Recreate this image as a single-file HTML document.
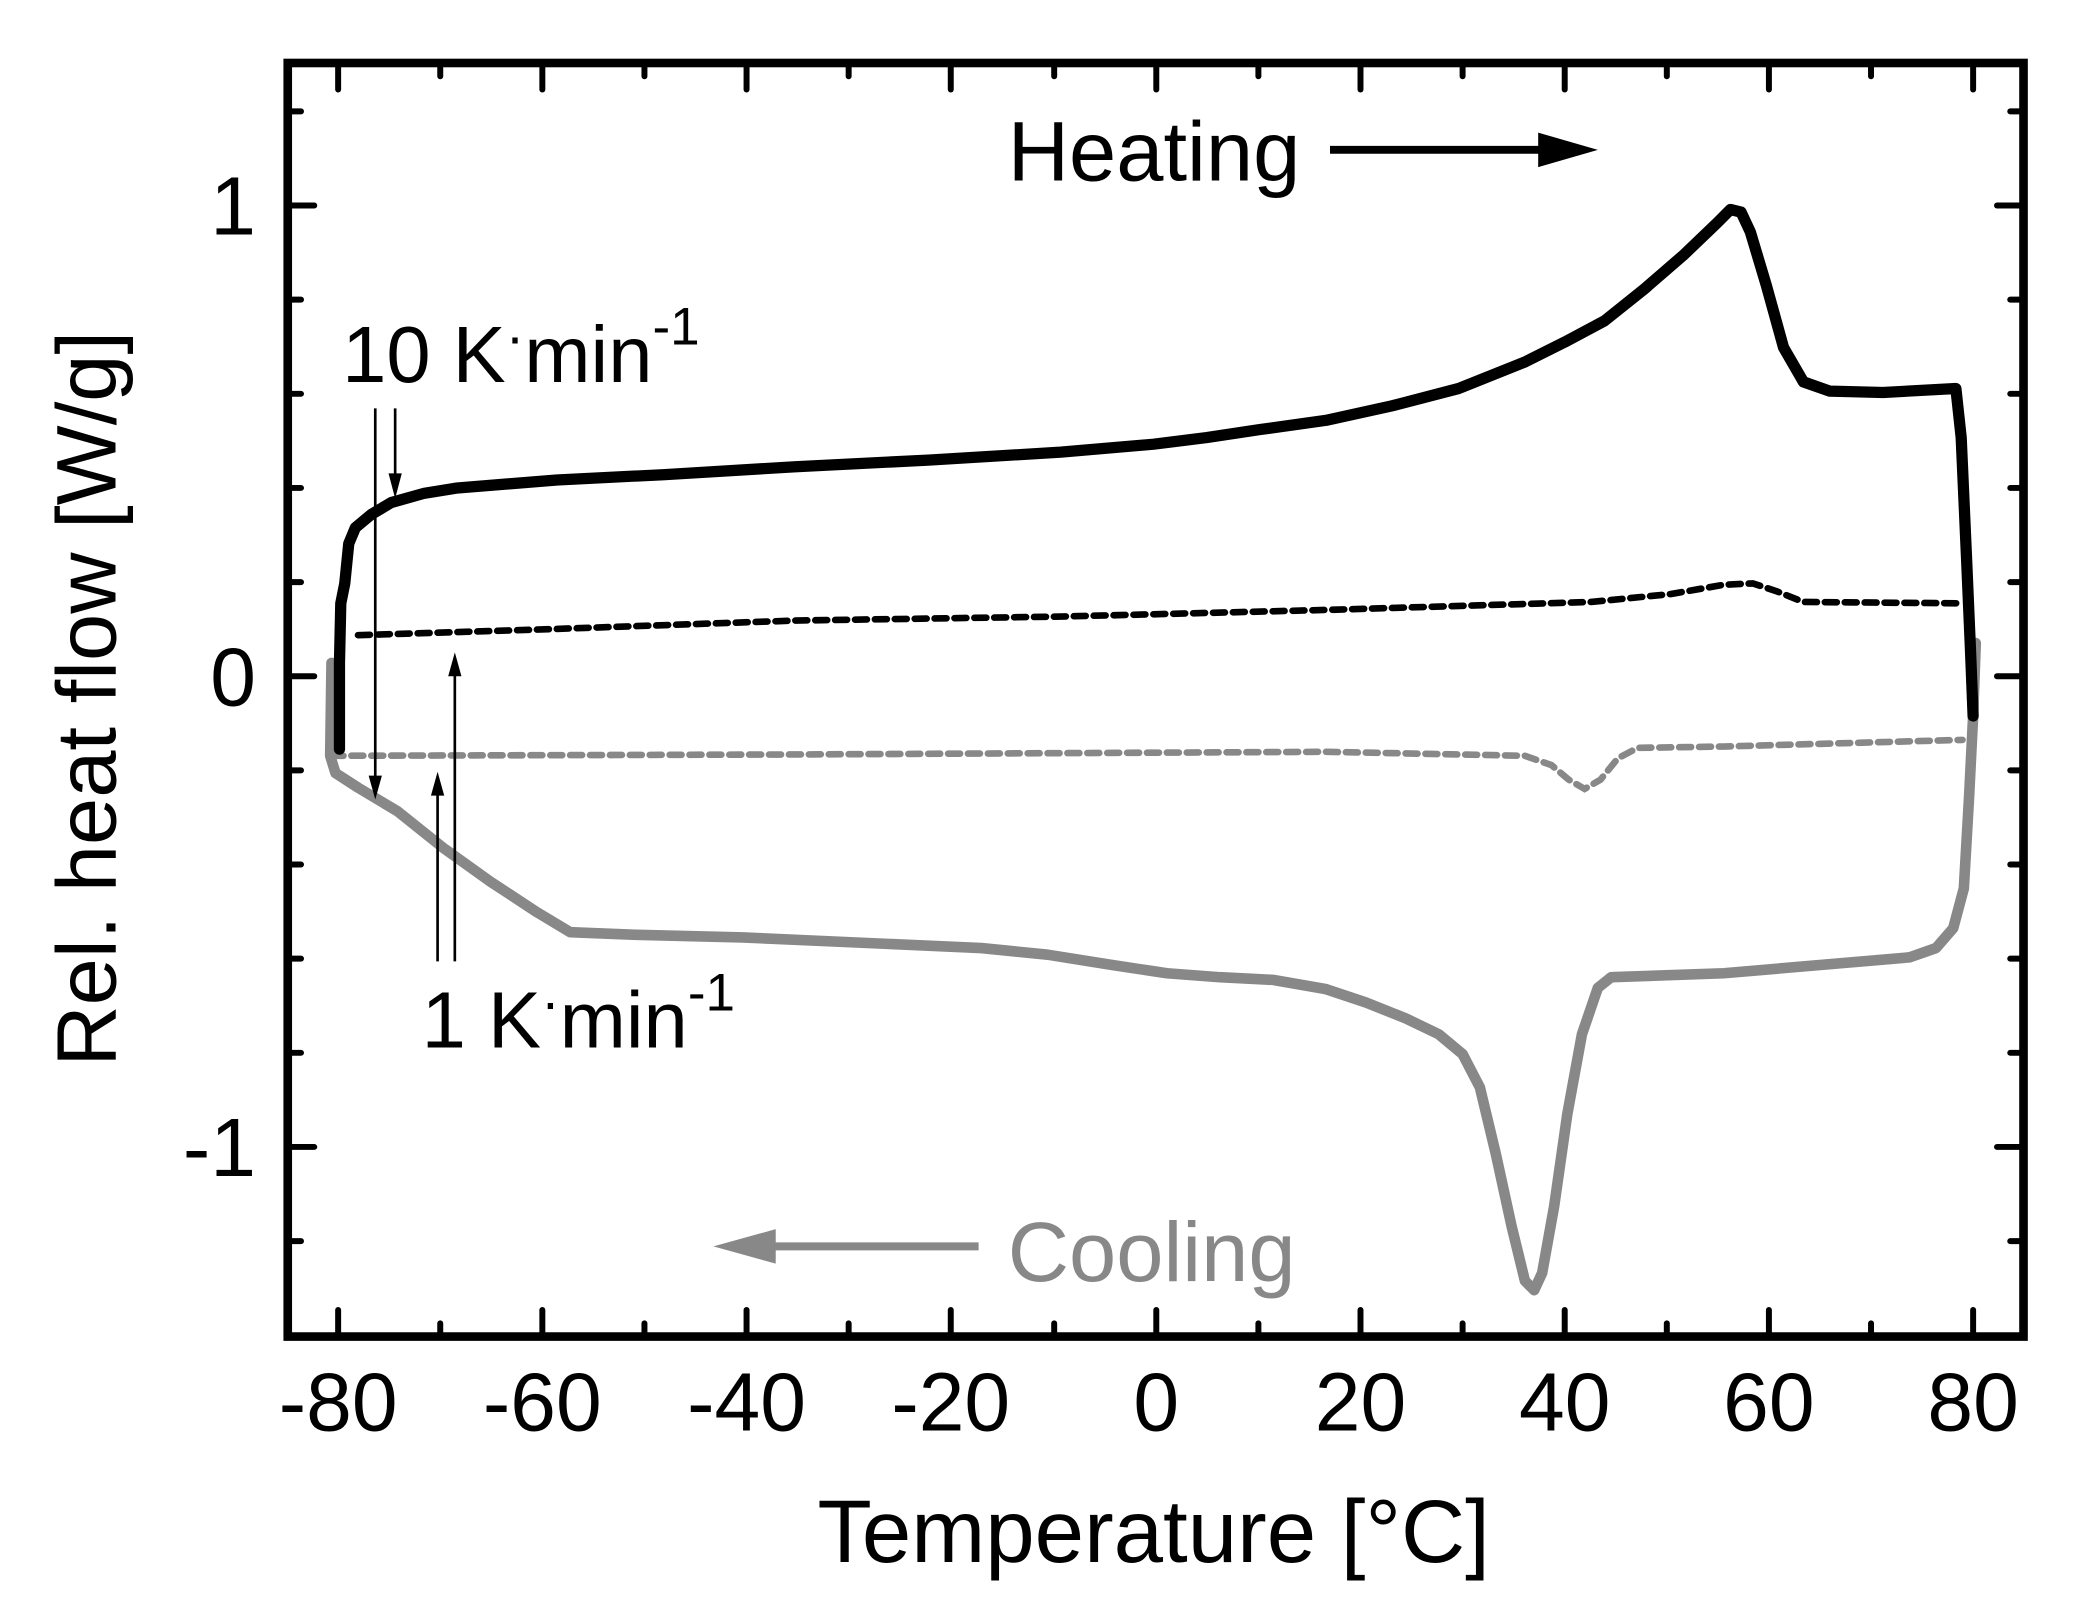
<!DOCTYPE html>
<html><head><style>html,body{margin:0;padding:0;background:#fff;}svg{display:block}</style></head>
<body>
<svg width="2080" height="1617" viewBox="0 0 1568.6 1219.5" preserveAspectRatio="none" xmlns="http://www.w3.org/2000/svg" font-family="Liberation Sans, Arial, sans-serif">
<rect width="1568.6" height="1219.5" fill="#fff"/>
<g stroke="#000" stroke-width="4.5" stroke-linecap="round">
<g id="xt">
<line x1="255" y1="1008" x2="255" y2="988"/><line x1="332" y1="1008" x2="332" y2="998"/>
<line x1="409" y1="1008" x2="409" y2="988"/><line x1="486" y1="1008" x2="486" y2="998"/>
<line x1="563" y1="1008" x2="563" y2="988"/><line x1="640" y1="1008" x2="640" y2="998"/>
<line x1="717" y1="1008" x2="717" y2="988"/><line x1="795" y1="1008" x2="795" y2="998"/>
<line x1="872" y1="1008" x2="872" y2="988"/><line x1="949" y1="1008" x2="949" y2="998"/>
<line x1="1026" y1="1008" x2="1026" y2="988"/><line x1="1103" y1="1008" x2="1103" y2="998"/>
<line x1="1180" y1="1008" x2="1180" y2="988"/><line x1="1257" y1="1008" x2="1257" y2="998"/>
<line x1="1334" y1="1008" x2="1334" y2="988"/><line x1="1411" y1="1008" x2="1411" y2="998"/>
<line x1="1488" y1="1008" x2="1488" y2="988"/>
</g>
<g transform="translate(0,1055.5) scale(1,-1)"><use href="#xt"/></g>
<g id="yt">
<line x1="217" y1="84" x2="227" y2="84"/><line x1="217" y1="155" x2="237" y2="155"/>
<line x1="217" y1="226" x2="227" y2="226"/><line x1="217" y1="297" x2="227" y2="297"/>
<line x1="217" y1="368" x2="227" y2="368"/><line x1="217" y1="439" x2="227" y2="439"/>
<line x1="217" y1="510" x2="237" y2="510"/><line x1="217" y1="581" x2="227" y2="581"/>
<line x1="217" y1="652" x2="227" y2="652"/><line x1="217" y1="723" x2="227" y2="723"/>
<line x1="217" y1="794" x2="227" y2="794"/><line x1="217" y1="865" x2="237" y2="865"/>
<line x1="217" y1="936" x2="227" y2="936"/>
</g>
<g transform="translate(1743,0) scale(-1,1)"><use href="#yt"/></g>
</g>
<rect x="217" y="47.5" width="1309" height="960.5" fill="none" stroke="#000" stroke-width="6.5"/>
<g font-size="62" fill="#000">
<g text-anchor="middle">
<text x="255" y="1079">-80</text><text x="409" y="1079">-60</text><text x="563" y="1079">-40</text>
<text x="717" y="1079">-20</text><text x="872" y="1079">0</text><text x="1026" y="1079">20</text>
<text x="1180" y="1079">40</text><text x="1334" y="1079">60</text><text x="1488" y="1079">80</text>
</g>
<g text-anchor="end">
<text x="193" y="177">1</text><text x="193" y="532">0</text><text x="193" y="887">-1</text>
</g>
<text x="870" y="1178" text-anchor="middle" font-size="67">Temperature [°C]</text>
<text transform="translate(87,527) rotate(-90)" text-anchor="middle" font-size="64">Rel. heat flow [W/g]</text>
<text x="760" y="136" font-size="64">Heating</text>
<text x="760" y="966" font-size="64" fill="#888">Cooling</text>
<text x="258" y="288" font-size="60">10 K<tspan font-size="42" dy="-20">·</tspan><tspan dy="20">min</tspan><tspan font-size="40" dy="-28">-1</tspan></text>
<text x="318" y="790" font-size="60">1 K<tspan font-size="42" dy="-20">·</tspan><tspan dy="20">min</tspan><tspan font-size="40" dy="-28">-1</tspan></text>
</g>
<line x1="1003" y1="113" x2="1170" y2="113" stroke="#000" stroke-width="6"/>
<path d="M1160,100 L1205,113 L1160,126 z" fill="#000"/>
<line x1="738" y1="940" x2="575" y2="940" stroke="#888" stroke-width="6"/>
<path d="M585,927 L538,940 L585,953 z" fill="#888"/>
<polyline fill="none" stroke="#000" stroke-width="5" stroke-dasharray="9 6" stroke-linecap="round" points="270,479 400,475 600,468 800,465 1000,460 1200,454 1260,448 1300,441 1322,440 1340,446 1360,454 1480,455"/>
<polyline fill="none" stroke="#888" stroke-width="5" stroke-dasharray="9 6" stroke-linecap="round" points="250,570 600,569 1000,567 1150,570 1170,577 1183,588 1195,595 1207,588 1220,572 1235,564 1300,563 1480,558"/>
<polyline fill="none" stroke="#888" stroke-width="8" stroke-linejoin="round" stroke-linecap="round" points="1490,485 1488,540 1485,600 1481,670 1473,700 1460,715 1440,722 1300,734 1215,737 1205,745 1193,780 1182,840 1172,910 1163,960 1157,973 1150,966 1140,925 1128,870 1116,820 1103,795 1085,780 1060,768 1030,756 1000,746 960,739 920,737 880,734 840,728 790,720 740,715 650,711 560,707 480,705 430,703 405,688 370,665 335,640 300,612 270,594 253,583 249,570 250,500"/>
<polyline fill="none" stroke="#000" stroke-width="8.5" stroke-linejoin="round" stroke-linecap="round" points="256,565 256,500 257,455 260,440 263,410 268,398 280,388 295,379 320,372 345,368 420,362 500,358 600,352 700,347 800,341 870,335 910,330 950,324 1000,317 1050,306 1100,293 1150,273 1180,258 1210,242 1240,218 1270,192 1295,168 1305,158 1313,160 1320,175 1332,215 1345,262 1360,288 1380,295 1420,296 1475,293 1479,330 1483,420 1486,490 1488,540"/>
<g stroke="#000" stroke-width="2">
<line x1="283" y1="308" x2="283" y2="590"/><line x1="298" y1="308" x2="298" y2="362"/>
<line x1="330" y1="725" x2="330" y2="596"/><line x1="343" y1="725" x2="343" y2="506"/>
</g>
<g fill="#000">
<path d="M278,585 L288,585 L283,603 z"/><path d="M293,357 L303,357 L298,376 z"/>
<path d="M325,600 L335,600 L330,582 z"/><path d="M338,510 L348,510 L343,492 z"/>
</g>
</svg>
</body></html>
